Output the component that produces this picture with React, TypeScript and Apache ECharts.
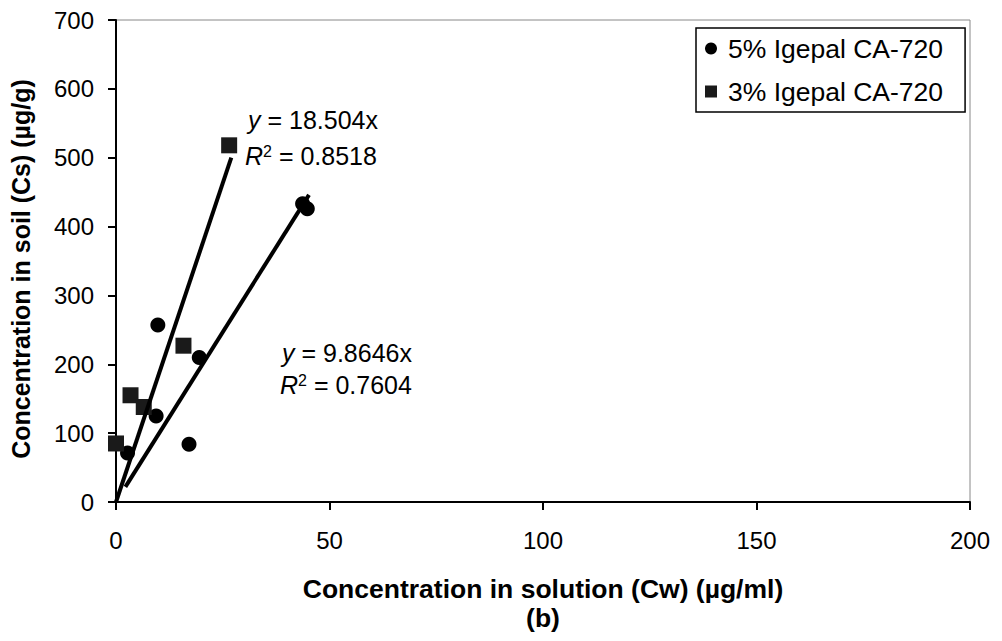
import React, { useEffect, useRef } from "react";
import * as echarts from "echarts";

const xTicks = [0, 50, 100, 150, 200];
const yTicks = [0, 100, 200, 300, 400, 500, 600, 700];

const seriesNames = ["5% Igepal CA-720", "3% Igepal CA-720"];

// 5% Igepal CA-720 (circles)
const igepal5: number[][] = [
  [2.7, 71],
  [9.4, 125],
  [9.8, 257],
  [17.1, 84],
  [19.5, 210],
  [43.7, 433],
  [44.8, 426],
];

// 3% Igepal CA-720 (squares)
const igepal3: number[][] = [
  [0, 85],
  [3.4, 155],
  [6.5, 138],
  [15.8, 227],
  [26.5, 518],
];

// trend lines (through origin), endpoints
const trend5: number[][] = [
  [2.2, 22],
  [45.2, 446],
];
const trend3: number[][] = [
  [0, 0],
  [27, 500],
];

const eq3 = ["{i|y} = 18.504x", "{i|R}{s|2} = 0.8518"];
const eq5 = ["{i|y} = 9.8646x", "{i|R}{s|2} = 0.7604"];

const FONT = "'Liberation Sans', Arial, Helvetica, sans-serif";

export default function App() {
  const ref = useRef<HTMLDivElement>(null);

  useEffect(() => {
    if (!ref.current) return;
    const chart = echarts.init(ref.current, null, { renderer: "svg" });

    const rich = {
      i: { fontStyle: "italic", fontSize: 25, fontFamily: FONT, fill: "#000", color: "#000" },
      s: { fontSize: 16, fontFamily: FONT, verticalAlign: "top", color: "#000", fill: "#000" },
    };
    const eqText = (text: string, x: number, y: number) => ({
      type: "text",
      left: x,
      top: y,
      z: 100,
      style: {
        text,
        fontSize: 25,
        fontFamily: FONT,
        fill: "#000",
        lineHeight: 26,
        rich,
      },
    });

    chart.setOption({
      animation: false,
      backgroundColor: "#fff",
      textStyle: { fontFamily: FONT },
      grid: {
        left: 115,
        right: 32,
        top: 20,
        bottom: 139,
        show: true,
        borderColor: "#888",
        borderWidth: 1,
        backgroundColor: "transparent",
      },
      legend: {
        data: [
          { name: seriesNames[0], icon: "circle" },
          { name: seriesNames[1], icon: "rect" },
        ],
        orient: "vertical",
        left: 696,
        top: 28,
        padding: [7, 22, 7, 9],
        itemGap: 16,
        itemWidth: 12,
        itemHeight: 12,
        borderColor: "#000",
        borderWidth: 1.5,
        backgroundColor: "#fff",
        textStyle: { fontSize: 26.5, fontFamily: FONT, color: "#000", padding: [0, 0, 0, 6] },
      },
      xAxis: {
        type: "value",
        min: xTicks[0],
        max: xTicks[xTicks.length - 1],
        interval: 50,
        splitLine: { show: false },
        axisLine: { show: true, onZero: false, lineStyle: { color: "#000", width: 2 } },
        axisTick: { show: true, inside: false, length: 8, lineStyle: { color: "#000", width: 2 } },
        axisLabel: { fontSize: 24, color: "#000", margin: 26, fontFamily: FONT },
        name: "Concentration in solution (Cw) (µg/ml)\n(b)",
        nameLocation: "middle",
        nameGap: 72,
        nameTextStyle: {
          fontSize: 26.5,
          fontWeight: "bold",
          color: "#000",
          fontFamily: FONT,
          lineHeight: 29,
        },
      },
      yAxis: {
        type: "value",
        min: yTicks[0],
        max: yTicks[yTicks.length - 1],
        interval: 100,
        splitLine: { show: false },
        axisLine: { show: true, onZero: false, lineStyle: { color: "#000", width: 2 } },
        axisTick: { show: true, inside: false, length: 8, lineStyle: { color: "#000", width: 2 } },
        axisLabel: { fontSize: 24, color: "#000", margin: 22, fontFamily: FONT },
        name: "Concentration in soil (Cs) (µg/g)",
        nameLocation: "middle",
        nameRotate: 90,
        nameGap: 83,
        nameTextStyle: {
          fontSize: 25,
          fontWeight: "bold",
          color: "#000",
          fontFamily: FONT,
          padding: [0, 16, 0, 0],
        },
      },
      series: [
        {
          name: seriesNames[0],
          type: "scatter",
          symbol: "circle",
          symbolSize: 15,
          itemStyle: { color: "#000", opacity: 1 },
          data: igepal5,
          z: 3,
        },
        {
          name: seriesNames[1],
          type: "scatter",
          symbol: "rect",
          symbolSize: 16,
          itemStyle: { color: "#1a1a1a", opacity: 1 },
          data: igepal3,
          z: 3,
        },
        {
          name: "trend5",
          type: "line",
          data: trend5,
          showSymbol: false,
          symbol: "none",
          silent: true,
          lineStyle: { color: "#000", width: 4 },
          z: 5,
        },
        {
          name: "trend3",
          type: "line",
          data: trend3,
          showSymbol: false,
          symbol: "none",
          silent: true,
          lineStyle: { color: "#000", width: 4 },
          z: 5,
        },
      ],
      graphic: [
        eqText(eq3[0], 248, 107),
        eqText(eq3[1], 245, 143),
        eqText(eq5[0], 282, 340),
        eqText(eq5[1], 280, 372),
      ],
    });

    return () => chart.dispose();
  }, []);

  return <div ref={ref} style={{ width: 1002, height: 641, margin: -8 }} />;
}
